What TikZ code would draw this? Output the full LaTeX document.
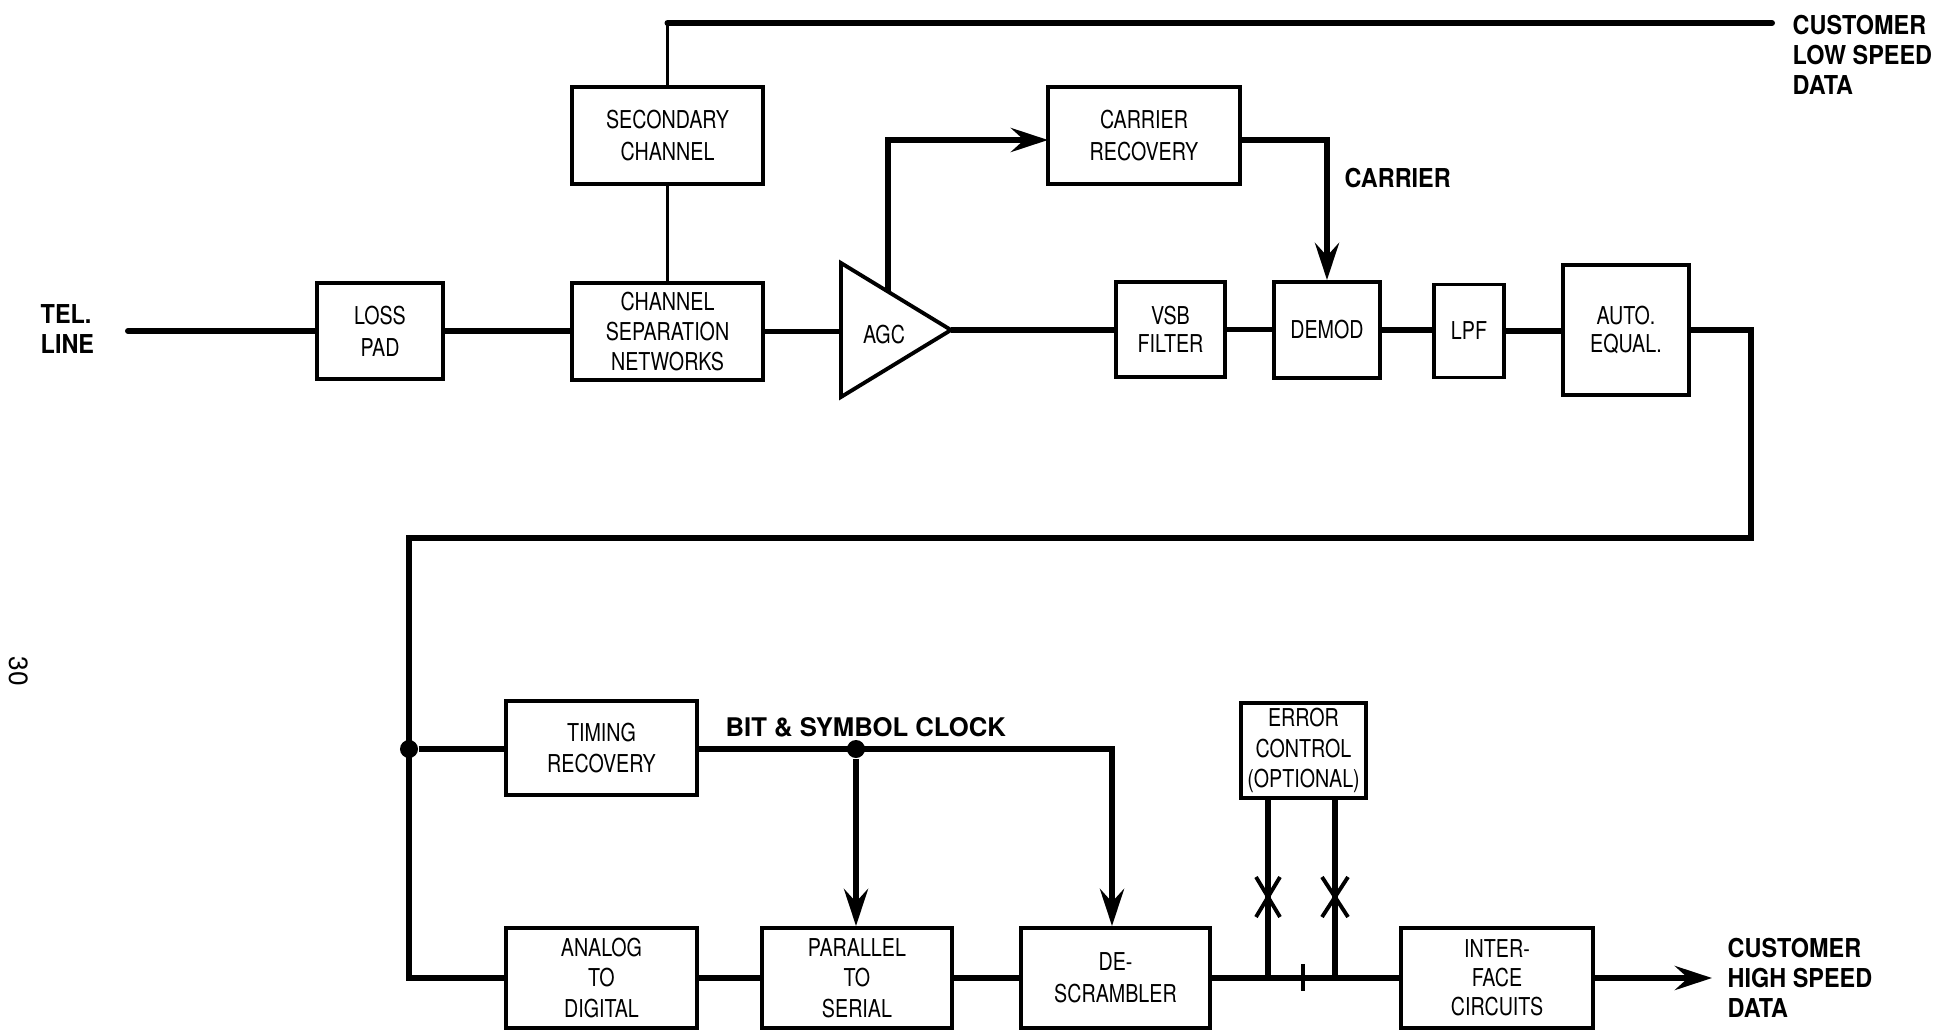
\documentclass[tikz,border=0pt]{standalone}
\usepackage{fontspec}
\setmainfont{TeX Gyre Heros}
\newfontfamily\condfont[FakeStretch=0.8]{TeX Gyre Heros}
\newfontfamily\lblfont[FakeStretch=0.9]{TeX Gyre Heros}
\usetikzlibrary{arrows.meta}
\newcommand\boxf{\condfont\fontsize{7}{9}\selectfont}
\newcommand\lblf{\lblfont\bfseries\fontsize{7.4}{8.6}\selectfont}
\begin{document}
\begin{tikzpicture}[x=0.01cm,y=-0.01cm,
  box/.style={draw, line width=1.1pt, inner sep=0pt, align=center, font=\boxf},
  sig/.style={line width=1.7pt, line join=miter},
  bline/.style={line width=1.1pt},
  arr/.style={-{Stealth[length=0.37cm,width=0.24cm,inset=0.13cm]}},
  lbl/.style={anchor=west, inner sep=0pt, align=left, font=\lblf},
  jdot/.style={circle, fill, inner sep=0pt, minimum size=0.18cm}]
\useasboundingbox (0,0) rectangle (1942,1030);

% boxes
\node[box, minimum width=1.26cm, minimum height=0.96cm] (loss) at (380,331) {LOSS\\PAD};
\node[box, minimum width=1.91cm, minimum height=0.97cm, font=\condfont\fontsize{7}{8.6}\selectfont] (chan) at (667.5,331.5) {CHANNEL\\SEPARATION\\NETWORKS};
\node[box, minimum width=1.91cm, minimum height=0.97cm] (sec) at (667.5,135.5) {SECONDARY\\CHANNEL};
\node[box, minimum width=1.92cm, minimum height=0.97cm] (carrier) at (1144,135.5) {CARRIER\\RECOVERY};
\node[box, minimum width=1.09cm, minimum height=0.95cm, font=\condfont\fontsize{7}{7.8}\selectfont] (vsb) at (1170.5,329.5) {VSB\\FILTER};
\node[box, minimum width=1.06cm, minimum height=0.96cm] (demod) at (1327,330) {DEMOD};
\node[box, minimum width=0.70cm, minimum height=0.93cm] (lpf) at (1469,331) {LPF};
\node[box, minimum width=1.26cm, minimum height=1.30cm, font=\condfont\fontsize{7}{8}\selectfont] (equal) at (1626,330) {AUTO.\\EQUAL.};
\node[box, minimum width=1.91cm, minimum height=0.94cm] (timing) at (601.5,748) {TIMING\\RECOVERY};
\node[box, minimum width=1.25cm, minimum height=0.95cm, font=\condfont\fontsize{7}{8.6}\selectfont] (error) at (1303.5,750.5) {ERROR\\CONTROL\\(OPTIONAL)};
\node[box, minimum width=1.91cm, minimum height=1.00cm, font=\condfont\fontsize{7}{8.6}\selectfont] (analog) at (601.5,978) {ANALOG\\TO\\DIGITAL};
\node[box, minimum width=1.90cm, minimum height=1.00cm, font=\condfont\fontsize{7}{8.6}\selectfont] (parallel) at (857,978) {PARALLEL\\TO\\SERIAL};
\node[box, minimum width=1.89cm, minimum height=1.00cm] (descr) at (1115.5,978) {DE-\\SCRAMBLER};
\node[box, minimum width=1.92cm, minimum height=1.00cm, font=\condfont\fontsize{7}{8.2}\selectfont] (inter) at (1497,978) {INTER-\\FACE\\CIRCUITS};

% AGC amplifier
\draw[bline, line join=miter] (841,263) -- (951,330) -- (841,397) -- cycle;
\node[font=\boxf, inner sep=0pt] (agc) at (884,335) {AGC};
\coordinate (agcin) at (841,331.5);
\coordinate (agcout) at (951,330);
\coordinate (agctap) at (888,291);

% labels
\node[lbl] (tel) at (40,329) {TEL.\\LINE};
\node[lbl] (lowlbl) at (1792,55) {CUSTOMER\\LOW SPEED\\DATA};
\node[lbl] (carlbl) at (1344,178) {CARRIER};
\node[lbl, font=\bfseries\fontsize{7.3}{8.6}\selectfont] (clklbl) at (725,727) {BIT \& SYMBOL CLOCK};
\node[lbl] (highlbl) at (1727,978) {CUSTOMER\\HIGH SPEED\\DATA};
\node[font=\fontsize{7.5}{9}\selectfont, rotate=-90, inner sep=0pt] (pg) at (19,671) {30};

% top secondary path
\coordinate (lowout) at (1772,23);
\draw[bline] (sec.south) -- (chan.north);
\draw[bline] (sec.north) -- (sec.north |- lowout);
\draw[sig, line cap=round] (sec.north |- lowout) -- (lowout);

% main receive path
\coordinate (telin) at (128,331);
\draw[sig, line cap=round] (telin) -- (loss.west);
\draw[sig] (loss.east) -- (chan.west |- loss.east);
\draw[sig] (chan.east) -- (agcin);
\draw[sig] (agcout) -- (vsb.west |- agcout);
\draw[sig] (vsb.east) -- (demod.west |- vsb.east);
\draw[sig] (demod.east) -- (lpf.west |- demod.east);
\draw[sig] (lpf.east) -- (equal.west |- lpf.east);

% carrier recovery
\coordinate (cin) at (1048,140);
\coordinate (cout) at (1240,140);
\draw[sig, arr] (agctap) |- (cin);
\draw[sig, arr] (cout) -| (demod.north);

% loop down to lower row
\coordinate (r1) at (1751,330);
\coordinate (r2) at (1751,538);
\coordinate (l1) at (409,538);
\coordinate (l2) at (409,978);
\draw[sig] (equal.east) -- (r1) -- (r2) -- (l1) -- (l2) -- (analog.west);

% timing
\node[jdot] (j1) at (409,749) {};
\node[jdot] (j2) at (856,749) {};
\coordinate (c1) at (1112,749);
\draw[sig] (j1) -- (timing.west |- j1);
\draw[sig, arr] (timing.east |- j1) -- (c1) -- (c1 |- descr.north);
\draw[sig, arr] (j2) -- (j2 |- parallel.north);

% lower data path
\coordinate (hout) at (1712,978);
\draw[sig] (analog.east) -- (parallel.west);
\draw[sig] (parallel.east) -- (descr.west);
\draw[sig] (descr.east) -- (inter.west);
\draw[sig, arr] (inter.east) -- (hout);

% error control
\coordinate (e1) at (1268,978);
\coordinate (e2) at (1335,978);
\draw[sig] (e1 |- error.south) -- (e1);
\draw[sig] (e2 |- error.south) -- (e2);
\draw[bline] (1256,877) -- (1280,917) (1280,877) -- (1256,917);
\draw[bline] (1322,877) -- (1348,917) (1348,877) -- (1322,917);
\draw[line width=1.2pt] (1303,964) -- (1303,991);
\end{tikzpicture}
\end{document}
